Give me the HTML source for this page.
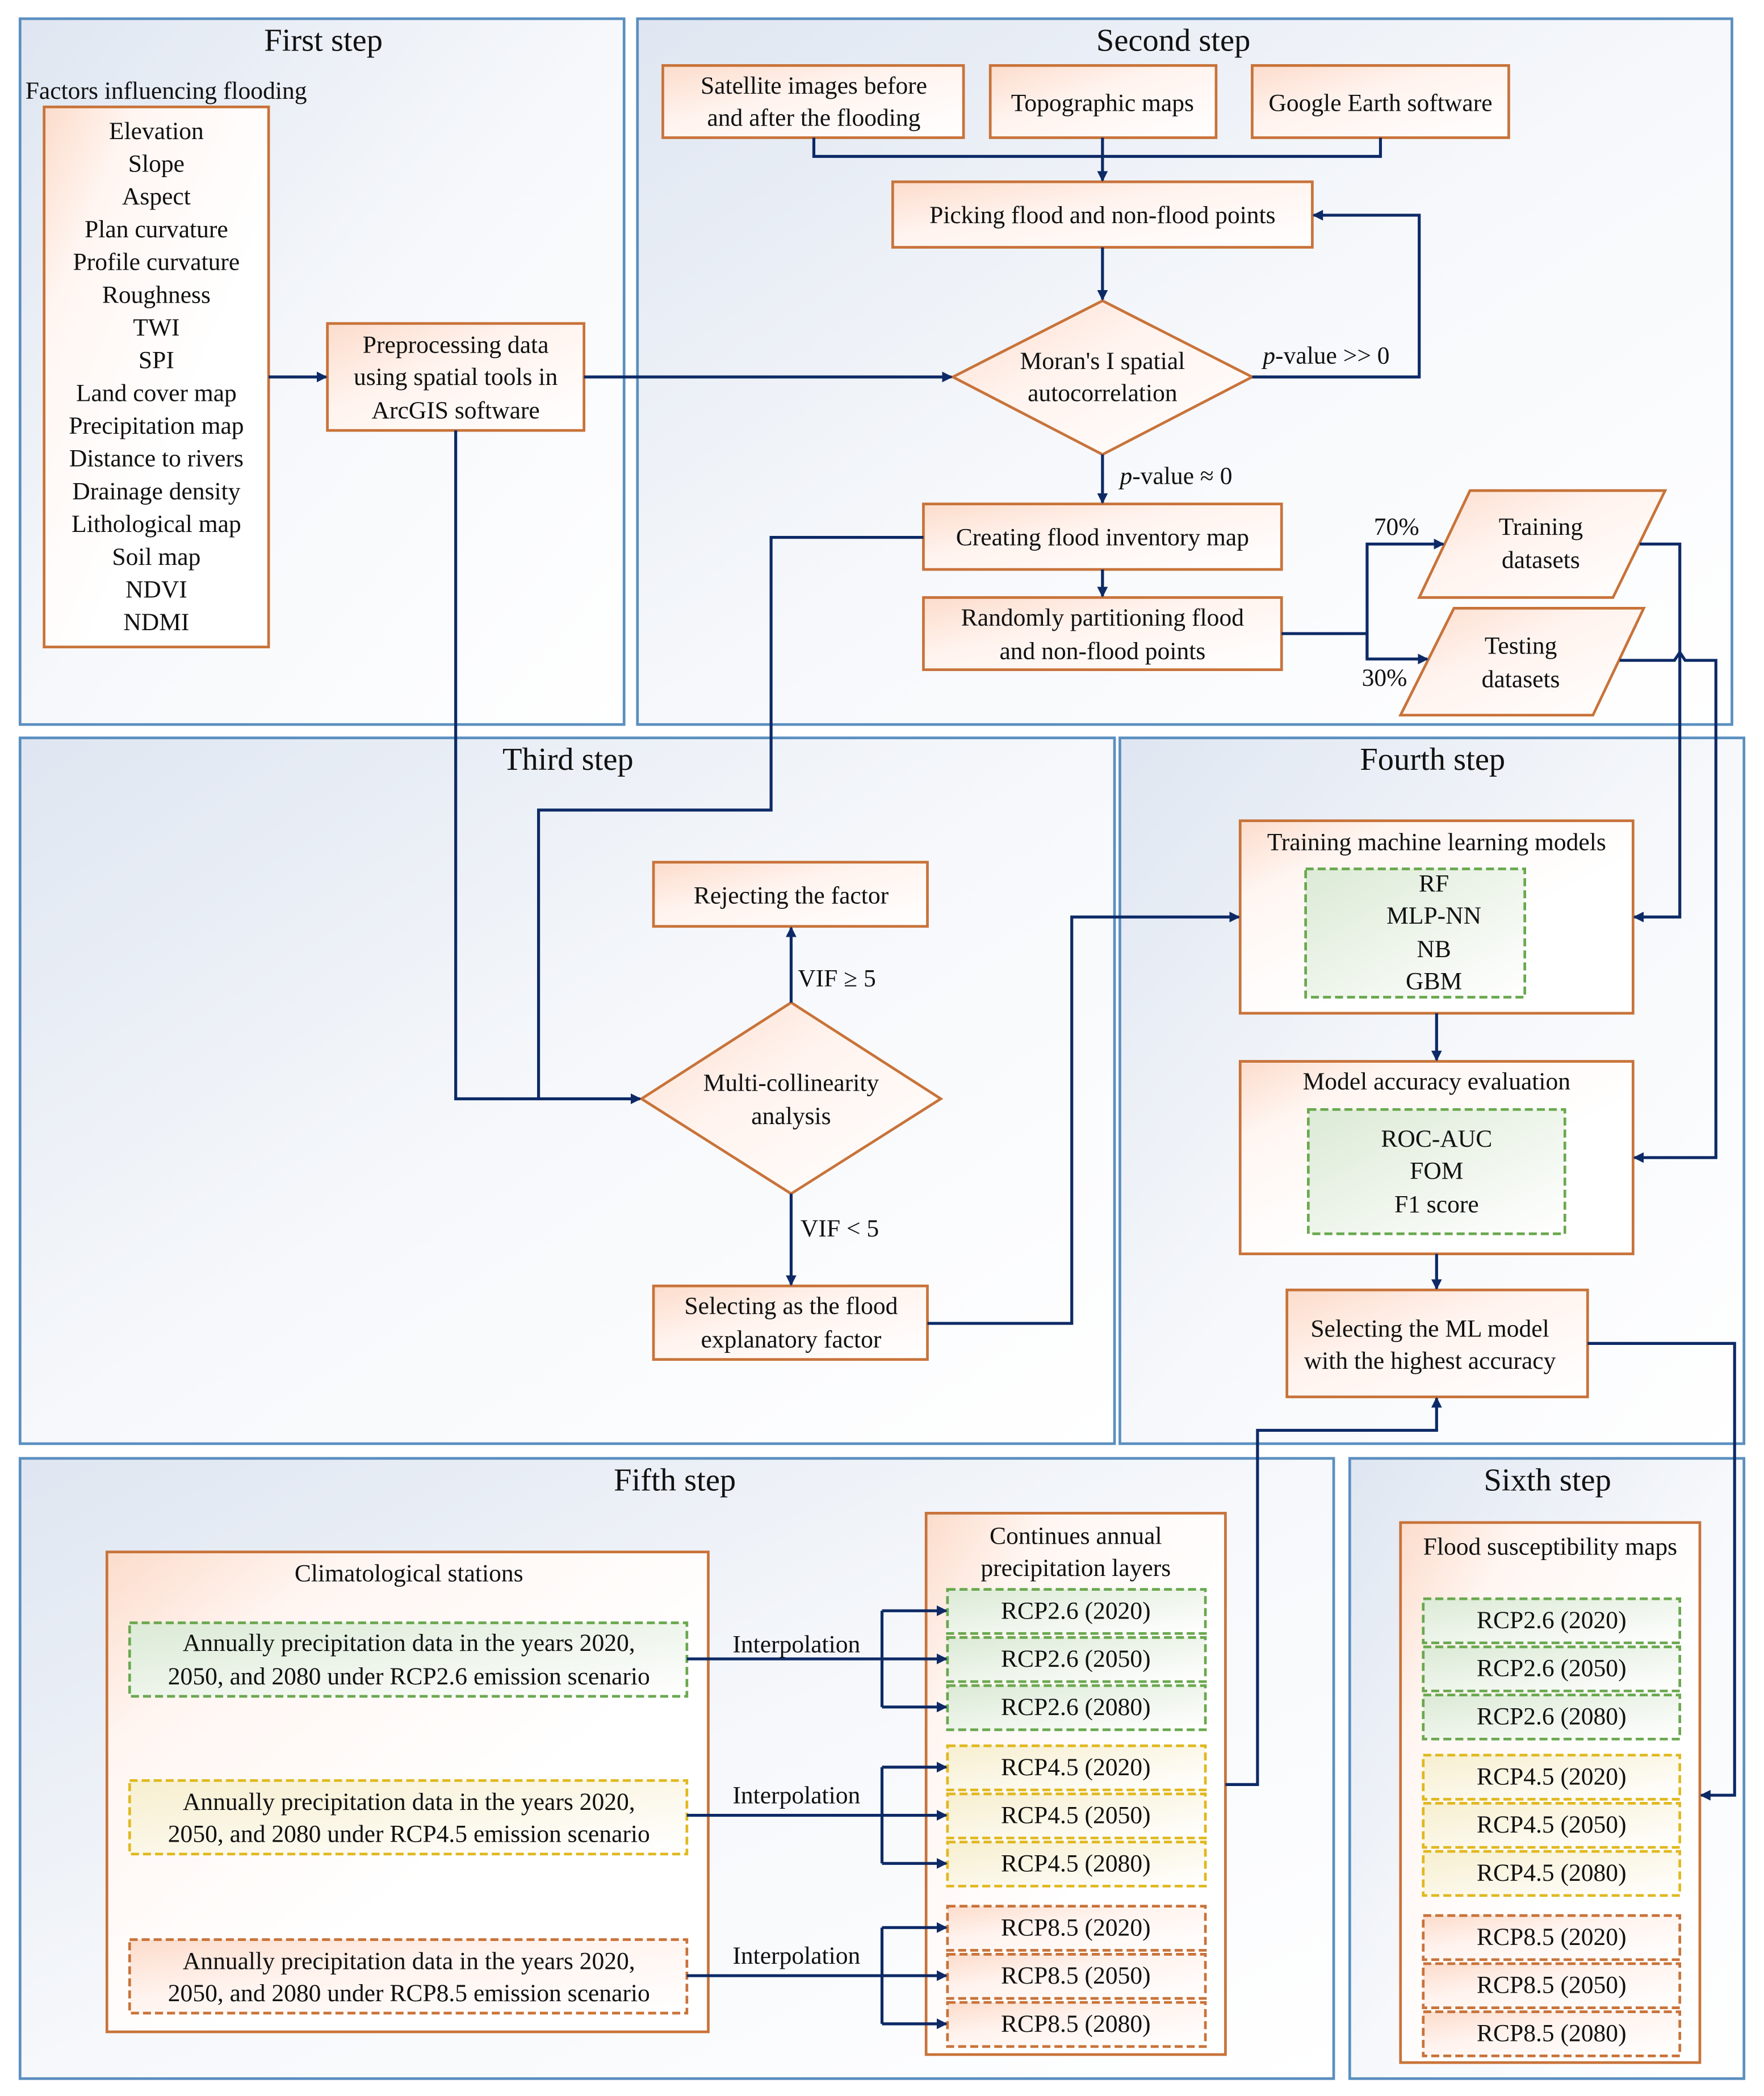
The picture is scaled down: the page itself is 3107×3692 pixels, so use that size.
<!DOCTYPE html>
<html><head><meta charset="utf-8"><style>html,body{margin:0;padding:0;background:#fff}svg{display:block}svg text{font-family:"Liberation Serif","Times New Roman",serif}</style></head><body>
<svg width="3107" height="3692" viewBox="0 0 1320 1568" preserveAspectRatio="none" xmlns="http://www.w3.org/2000/svg" fill="#111">
<defs>
<linearGradient id="pg" x1="0" y1="0" x2="1" y2="1"><stop offset="0" stop-color="#dfe6f1"/><stop offset="0.5" stop-color="#f6f8fb"/><stop offset="1" stop-color="#ffffff"/></linearGradient>
<linearGradient id="og" x1="0" y1="0" x2="1" y2="1"><stop offset="0" stop-color="#fcdccb"/><stop offset="0.4" stop-color="#fff3ee"/><stop offset="1" stop-color="#ffffff"/></linearGradient>
<linearGradient id="og2" x1="0" y1="0" x2="0.6" y2="0.6"><stop offset="0" stop-color="#fcdccb"/><stop offset="0.35" stop-color="#fff6f2"/><stop offset="1" stop-color="#ffffff"/></linearGradient>
<linearGradient id="gg" x1="0" y1="0" x2="1" y2="1"><stop offset="0" stop-color="#dcead6"/><stop offset="1" stop-color="#ffffff"/></linearGradient>
<linearGradient id="yg" x1="0" y1="0" x2="1" y2="1"><stop offset="0" stop-color="#f7efd0"/><stop offset="1" stop-color="#ffffff"/></linearGradient>
<marker id="a" markerWidth="8" markerHeight="8" refX="7" refY="4" orient="auto" markerUnits="userSpaceOnUse"><path d="M0,0 L8,4 L0,8 z" fill="#0d2a66"/></marker>
</defs>
<g fill="url(#pg)" stroke="#5b8fc0" stroke-width="2">
<rect x="15" y="14" width="452" height="528"/>
<rect x="477" y="14" width="819" height="528"/>
<rect x="15" y="552" width="819" height="528"/>
<rect x="838" y="552" width="467" height="528"/>
<rect x="15" y="1091" width="983" height="464"/>
<rect x="1010" y="1091" width="295" height="464"/>
</g>
<g font-size="24" text-anchor="middle">
<text x="242" y="38">First step</text><text x="878" y="38">Second step</text>
<text x="425" y="576">Third step</text><text x="1072" y="576">Fourth step</text>
<text x="505" y="1115">Fifth step</text><text x="1158" y="1115">Sixth step</text>
</g>
<g fill="url(#og)" stroke="#c8733a" stroke-width="2">
<rect x="245" y="242" width="192" height="80"/>
<rect x="496" y="49" width="225" height="54"/>
<rect x="741" y="49" width="169" height="54"/>
<rect x="937" y="49" width="192" height="54"/>
<rect x="668" y="136" width="314" height="49"/>
<polygon points="825,225 937,282 825,340 713,282"/>
<rect x="691" y="377" width="268" height="49"/>
<rect x="691" y="447" width="268" height="54"/>
<polygon points="1100,367 1246,367 1207,447 1062,447"/>
<polygon points="1088,455 1230,455 1192,535 1048,535"/>
<rect x="489" y="645" width="205" height="48"/>
<polygon points="592,750 704,822 592,893 480,822"/>
<rect x="489" y="962" width="205" height="55"/>
<rect x="963" y="965" width="225" height="80"/>
</g>
<g fill="url(#og2)" stroke="#c8733a" stroke-width="2">
<rect x="33" y="80" width="168" height="404"/>
<rect x="928" y="614" width="294" height="144"/>
<rect x="928" y="794" width="294" height="144"/>
<rect x="80" y="1161" width="450" height="359"/>
<rect x="693" y="1132" width="224" height="405"/>
<rect x="1048" y="1139" width="224" height="404"/>
</g>
<g stroke-width="2" stroke-dasharray="6,3">
<g fill="url(#gg)" stroke="#6aa84f">
<rect x="977" y="650" width="164" height="96"/>
<rect x="979" y="830" width="192" height="93"/>
<rect x="97" y="1214" width="417" height="55"/>
<rect x="709" y="1189" width="193" height="33"/><rect x="709" y="1225" width="193" height="33"/><rect x="709" y="1261" width="193" height="33"/>
<rect x="1065" y="1196" width="192" height="33"/><rect x="1065" y="1232" width="192" height="33"/><rect x="1065" y="1268" width="192" height="33"/>
</g>
<g fill="url(#yg)" stroke="#e0b820">
<rect x="97" y="1332" width="417" height="55"/>
<rect x="709" y="1306" width="193" height="33"/><rect x="709" y="1342" width="193" height="33"/><rect x="709" y="1378" width="193" height="33"/>
<rect x="1065" y="1313" width="192" height="33"/><rect x="1065" y="1349" width="192" height="33"/><rect x="1065" y="1385" width="192" height="33"/>
</g>
<g fill="url(#og)" stroke="#c8733a">
<rect x="97" y="1451" width="417" height="55"/>
<rect x="709" y="1426" width="193" height="33"/><rect x="709" y="1462" width="193" height="33"/><rect x="709" y="1498" width="193" height="33"/>
<rect x="1065" y="1433" width="192" height="33"/><rect x="1065" y="1469" width="192" height="33"/><rect x="1065" y="1505" width="192" height="33"/>
</g>
</g>
<g fill="none" stroke="#0d2a66" stroke-width="2.2">
<path d="M201,282 H244" marker-end="url(#a)"/>
<path d="M437,282 H712" marker-end="url(#a)"/>
<path d="M609,103 V117 H1033 V103"/>
<path d="M825,103 V135" marker-end="url(#a)"/>
<path d="M825,185 V224" marker-end="url(#a)"/>
<path d="M937,282 H1062 V161 H983" marker-end="url(#a)"/>
<path d="M825,340 V376" marker-end="url(#a)"/>
<path d="M691,402 H577 V606 H403 V822"/>
<path d="M825,426 V446" marker-end="url(#a)"/>
<path d="M959,474 H1023"/>
<path d="M1023,493 V407 H1080" marker-end="url(#a)"/>
<path d="M1023,474 V493 H1068" marker-end="url(#a)"/>
<path d="M1227,407 H1257 V686 H1223" marker-end="url(#a)"/>
<path d="M1212,494 H1253 L1257,488 L1261,494 H1284 V866 H1223" marker-end="url(#a)"/>
<path d="M341,322 V822 H479" marker-end="url(#a)"/>
<path d="M592,750 V694" marker-end="url(#a)"/>
<path d="M592,893 V961" marker-end="url(#a)"/>
<path d="M694,990 H802 V686 H927" marker-end="url(#a)"/>
<path d="M1075,758 V793" marker-end="url(#a)"/>
<path d="M1075,938 V964" marker-end="url(#a)"/>
<path d="M1188,1005 H1298 V1343 H1273" marker-end="url(#a)"/>
<path d="M917,1335 H941 V1070 H1075 V1046" marker-end="url(#a)"/>
<path d="M514,1241 H660"/><path d="M660,1205 V1277"/>
<path d="M660,1205 H708" marker-end="url(#a)"/><path d="M660,1241 H708" marker-end="url(#a)"/><path d="M660,1277 H708" marker-end="url(#a)"/>
<path d="M514,1358 H660"/><path d="M660,1322 V1394"/>
<path d="M660,1322 H708" marker-end="url(#a)"/><path d="M660,1358 H708" marker-end="url(#a)"/><path d="M660,1394 H708" marker-end="url(#a)"/>
<path d="M514,1478 H660"/><path d="M660,1442 V1514"/>
<path d="M660,1442 H708" marker-end="url(#a)"/><path d="M660,1478 H708" marker-end="url(#a)"/><path d="M660,1514 H708" marker-end="url(#a)"/>
</g>
<g font-size="18.5" text-anchor="middle">
<text x="19" y="74" text-anchor="start">Factors influencing flooding</text>
<text x="117" y="104">Elevation</text><text x="117" y="128.5">Slope</text><text x="117" y="153">Aspect</text><text x="117" y="177.5">Plan curvature</text><text x="117" y="202">Profile curvature</text><text x="117" y="226.5">Roughness</text><text x="117" y="251">TWI</text><text x="117" y="275.5">SPI</text><text x="117" y="300">Land cover map</text><text x="117" y="324.5">Precipitation map</text><text x="117" y="349">Distance to rivers</text><text x="117" y="373.5">Drainage density</text><text x="117" y="398">Lithological map</text><text x="117" y="422.5">Soil map</text><text x="117" y="447">NDVI</text><text x="117" y="471.5">NDMI</text>
<text x="341" y="264">Preprocessing data</text><text x="341" y="288">using spatial tools in</text><text x="341" y="313">ArcGIS software</text>
<text x="609" y="70">Satellite images before</text><text x="609" y="94">and after the flooding</text>
<text x="825" y="83">Topographic maps</text><text x="1033" y="83">Google Earth software</text>
<text x="825" y="167">Picking flood and non-flood points</text>
<text x="825" y="276">Moran's I spatial</text><text x="825" y="300">autocorrelation</text>
<text x="945" y="272" text-anchor="start"><tspan font-style="italic">p</tspan>-value &gt;&gt; 0</text>
<text x="838" y="362" text-anchor="start"><tspan font-style="italic">p</tspan>-value ≈ 0</text>
<text x="825" y="408">Creating flood inventory map</text>
<text x="825" y="468">Randomly partitioning flood</text><text x="825" y="493">and non-flood points</text>
<text x="1045" y="400">70%</text><text x="1036" y="513">30%</text>
<text x="1153" y="400">Training</text><text x="1153" y="425">datasets</text>
<text x="1138" y="489">Testing</text><text x="1138" y="514">datasets</text>
<text x="592" y="676">Rejecting the factor</text>
<text x="597" y="738" text-anchor="start">VIF ≥  5</text>
<text x="592" y="816">Multi-collinearity</text><text x="592" y="841">analysis</text>
<text x="599" y="925" text-anchor="start">VIF &lt;  5</text>
<text x="592" y="983">Selecting as the flood</text><text x="592" y="1008">explanatory factor</text>
<text x="1075" y="636">Training machine learning models</text>
<text x="1073" y="667">RF</text><text x="1073" y="691">MLP-NN</text><text x="1073" y="716">NB</text><text x="1073" y="740">GBM</text>
<text x="1075" y="815">Model accuracy evaluation</text>
<text x="1075" y="858">ROC-AUC</text><text x="1075" y="882">FOM</text><text x="1075" y="907">F1 score</text>
<text x="1070" y="1000">Selecting the ML model</text><text x="1070" y="1024">with the highest accuracy</text>
<text x="306" y="1183">Climatological stations</text>
<text x="306" y="1235">Annually precipitation data in the years 2020,</text><text x="306" y="1260">2050, and 2080 under RCP2.6 emission scenario</text>
<text x="306" y="1354">Annually precipitation data in the years 2020,</text><text x="306" y="1378">2050, and 2080 under RCP4.5 emission scenario</text>
<text x="306" y="1473">Annually precipitation data in the years 2020,</text><text x="306" y="1497">2050, and 2080 under RCP8.5 emission scenario</text>
<text x="596" y="1236">Interpolation</text><text x="596" y="1349">Interpolation</text><text x="596" y="1469">Interpolation</text>
<text x="805" y="1155">Continues annual</text><text x="805" y="1179">precipitation layers</text>
<text x="805" y="1211">RCP2.6 (2020)</text><text x="805" y="1247">RCP2.6 (2050)</text><text x="805" y="1283">RCP2.6 (2080)</text>
<text x="805" y="1328">RCP4.5 (2020)</text><text x="805" y="1364">RCP4.5 (2050)</text><text x="805" y="1400">RCP4.5 (2080)</text>
<text x="805" y="1448">RCP8.5 (2020)</text><text x="805" y="1484">RCP8.5 (2050)</text><text x="805" y="1520">RCP8.5 (2080)</text>
<text x="1160" y="1163">Flood susceptibility maps</text>
<text x="1161" y="1218">RCP2.6 (2020)</text><text x="1161" y="1254">RCP2.6 (2050)</text><text x="1161" y="1290">RCP2.6 (2080)</text>
<text x="1161" y="1335">RCP4.5 (2020)</text><text x="1161" y="1371">RCP4.5 (2050)</text><text x="1161" y="1407">RCP4.5 (2080)</text>
<text x="1161" y="1455">RCP8.5 (2020)</text><text x="1161" y="1491">RCP8.5 (2050)</text><text x="1161" y="1527">RCP8.5 (2080)</text>
</g>
</svg>
</body></html>
